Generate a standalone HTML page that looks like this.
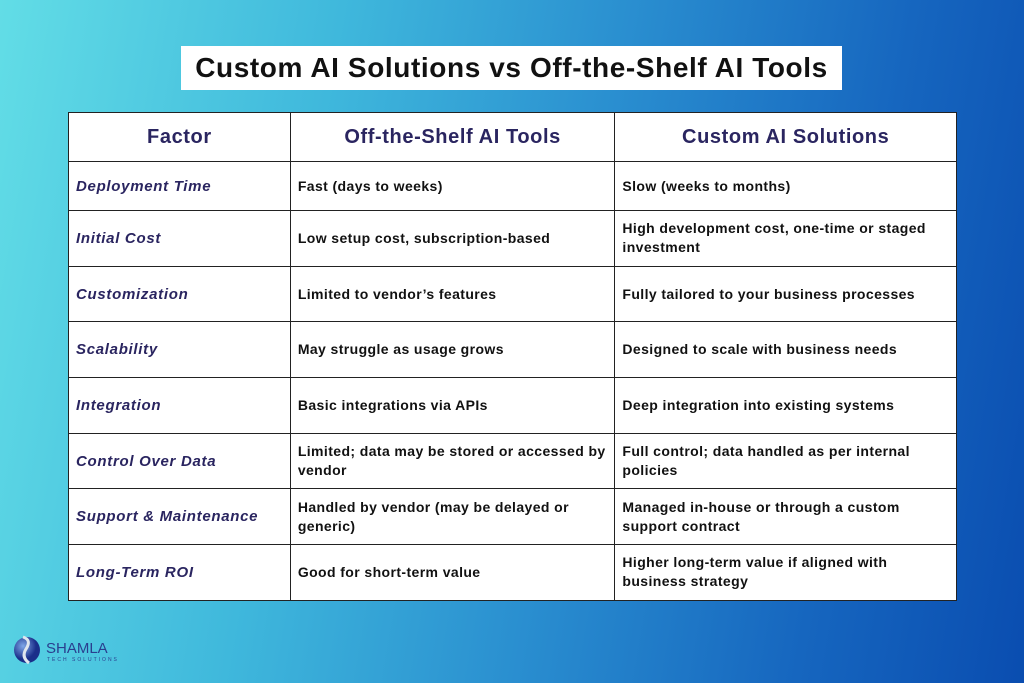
<!DOCTYPE html>
<html><head><meta charset="utf-8"><style>
*{margin:0;padding:0;box-sizing:border-box}
body{width:1024px;height:683px;overflow:hidden;position:relative;font-family:"Liberation Sans",sans-serif;
background:linear-gradient(100deg,#62dde6 0%,#3fb8dc 30%,#2a8fd0 55%,#1666bf 80%,#0a4db0 100%);}
.title{position:absolute;left:181px;top:46px;width:661px;height:44px;background:#fff;text-align:center;font-size:28px;letter-spacing:0.6px;font-weight:bold;line-height:44px;color:#111;white-space:nowrap}
table{position:absolute;left:68px;top:112px;width:889px;border-collapse:collapse;background:#fff}
td,th{border:1.5px solid #222;vertical-align:middle}
th{height:49px;font-size:20px;letter-spacing:0.6px;color:#2a2560;font-weight:bold}
td{font-size:14px;letter-spacing:0.4px;font-weight:bold;color:#111;padding:0 7px;line-height:19px}
td.f{font-style:italic;font-size:15px;letter-spacing:0.7px;color:#2a2560}
tr.r td{height:55.7px}
.logo{position:absolute;left:12px;top:632px}
</style></head><body>
<div class="title">Custom AI Solutions vs Off-the-Shelf AI Tools</div>
<table>
<colgroup><col style="width:222px"><col style="width:325px"><col style="width:342px"></colgroup>
<tr><th>Factor</th><th>Off-the-Shelf AI Tools</th><th>Custom AI Solutions</th></tr>
<tr><td class="f" style="height:49px">Deployment Time</td><td>Fast (days to weeks)</td><td>Slow (weeks to months)</td></tr>
<tr class="r"><td class="f">Initial Cost</td><td>Low setup cost, subscription-based</td><td>High development cost, one-time or staged<br>investment</td></tr>
<tr class="r"><td class="f">Customization</td><td>Limited to vendor’s features</td><td>Fully tailored to your business processes</td></tr>
<tr class="r"><td class="f">Scalability</td><td>May struggle as usage grows</td><td>Designed to scale with business needs</td></tr>
<tr class="r"><td class="f">Integration</td><td>Basic integrations via APIs</td><td>Deep integration into existing systems</td></tr>
<tr class="r"><td class="f">Control Over Data</td><td>Limited; data may be stored or accessed by<br>vendor</td><td>Full control; data handled as per internal<br>policies</td></tr>
<tr class="r"><td class="f">Support &amp; Maintenance</td><td>Handled by vendor (may be delayed or<br>generic)</td><td>Managed in-house or through a custom<br>support contract</td></tr>
<tr class="r"><td class="f">Long-Term ROI</td><td>Good for short-term value</td><td>Higher long-term value if aligned with<br>business strategy</td></tr>
</table>
<div class="logo">
<svg width="130" height="34" viewBox="0 0 130 34">
<defs><radialGradient id="g" cx="35%" cy="35%"><stop offset="0" stop-color="#7fa7e8"/><stop offset="1" stop-color="#1a2f8a"/></radialGradient></defs>
<circle cx="15" cy="18" r="13" fill="url(#g)"/>
<path d="M11 5 Q20 8 14 17 Q9 25 17 31" stroke="#dfe6ee" stroke-width="3" fill="none"/>
<text x="34" y="21" font-family="Liberation Sans,sans-serif" font-size="15" fill="#2a3f8f">SHAMLA</text>
<text x="35" y="29" font-family="Liberation Sans,sans-serif" font-size="5" letter-spacing="2" fill="#2a3f8f">TECH SOLUTIONS</text>
</svg></div>
</body></html>
